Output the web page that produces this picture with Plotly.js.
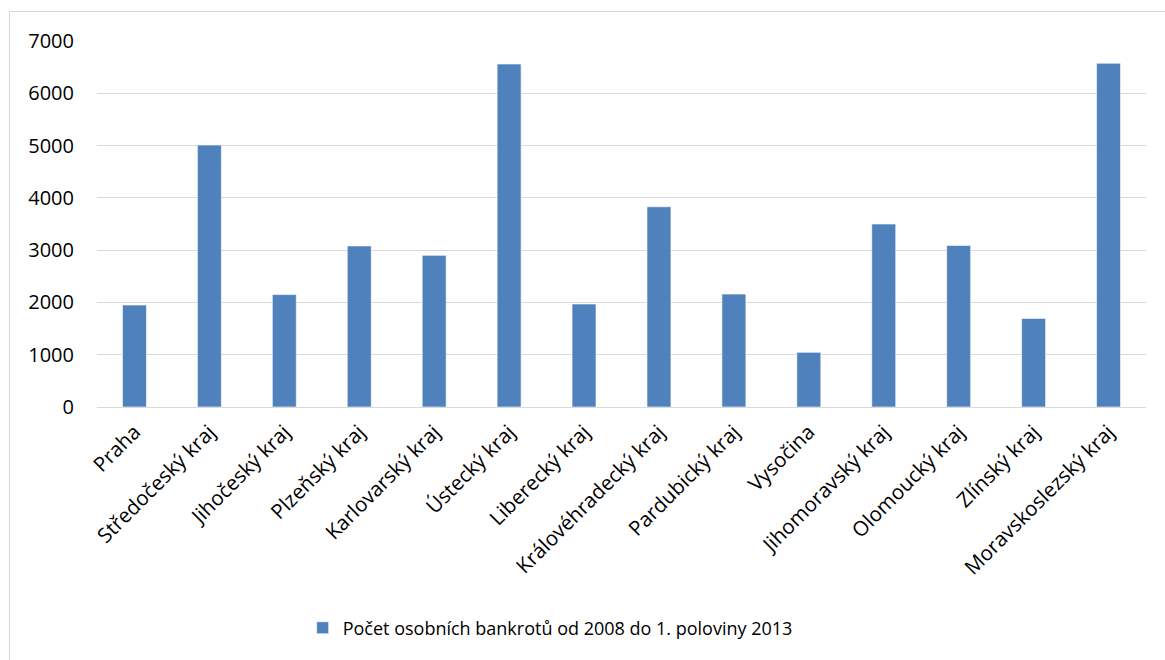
<!DOCTYPE html>
<html>
<head>
<meta charset="utf-8">
<script src="https://cdn.plot.ly/plotly-3.0.1.min.js"></script>
<style>
html,body{margin:0;padding:0;background:#fff;overflow:hidden;}
#frame{position:absolute;left:9px;top:11px;width:1200px;height:700px;border-left:1px solid #d9d9d9;border-top:1px solid #d9d9d9;}
#chart{position:absolute;left:0;top:0;width:1165px;height:660px;}
</style>
</head>
<body>
<div id="frame"></div>
<div id="chart"></div>
<script>
const categories = ["Praha","Středočeský kraj","Jihočeský kraj","Plzeňský kraj","Karlovarský kraj","Ústecký kraj","Liberecký kraj","Královéhradecký kraj","Pardubický kraj","Vysočina","Jihomoravský kraj","Olomoucký kraj","Zlínský kraj","Moravskoslezský kraj"];
const values = [1950, 5010, 2150, 3080, 2900, 6560, 1970, 3830, 2160, 1045, 3500, 3090, 1695, 6575];
const seriesName = "Počet osobních bankrotů od 2008 do 1. poloviny 2013";
const yTicks = [0,1000,2000,3000,4000,5000,6000,7000];

const fam = "Open Sans, Noto Sans, sans-serif";

Plotly.newPlot("chart", [{
  type: "bar",
  x: categories,
  y: values,
  name: seriesName,
  marker: {color: "#4f81bd", line: {color: "rgba(255,255,255,0.6)", width: 1}},
  width: 0.32,
  showlegend: true
}], {
  width: 1165, height: 660,
  margin: {l: 97, r: 19, t: 41, b: 253},
  paper_bgcolor: "rgba(0,0,0,0)",
  plot_bgcolor: "rgba(0,0,0,0)",
  font: {family: fam, size: 18, color: "#000"},
  xaxis: {
    tickangle: -45,
    tickfont: {family: fam, size: 20.5, color: "#000"},
    showgrid: false,
    zeroline: false,
    showline: false,
    ticks: "",
    ticklabelstandoff: 8,
    fixedrange: true
  },
  yaxis: {
    range: [0, 7000],
    tickvals: yTicks,
    ticktext: yTicks.map(String),
    tickfont: {family: fam, size: 20, color: "#000"},
    showgrid: true,
    gridcolor: "#d9d9d9",
    gridwidth: 1,
    zeroline: true,
    zerolinecolor: "#d9d9d9",
    zerolinewidth: 1,
    showline: false,
    ticks: "",
    ticklabelstandoff: 22,
    fixedrange: true
  },
  showlegend: true,
  legend: {
    orientation: "h",
    x: 0.432, xanchor: "center",
    y: -0.604, yanchor: "middle",
    font: {family: fam, size: 18, color: "#000"},
    itemwidth: 30,
    bgcolor: "rgba(0,0,0,0)"
  },
  bargap: 0.68
}, {displayModeBar: false, staticPlot: true});
</script>
</body>
</html>
